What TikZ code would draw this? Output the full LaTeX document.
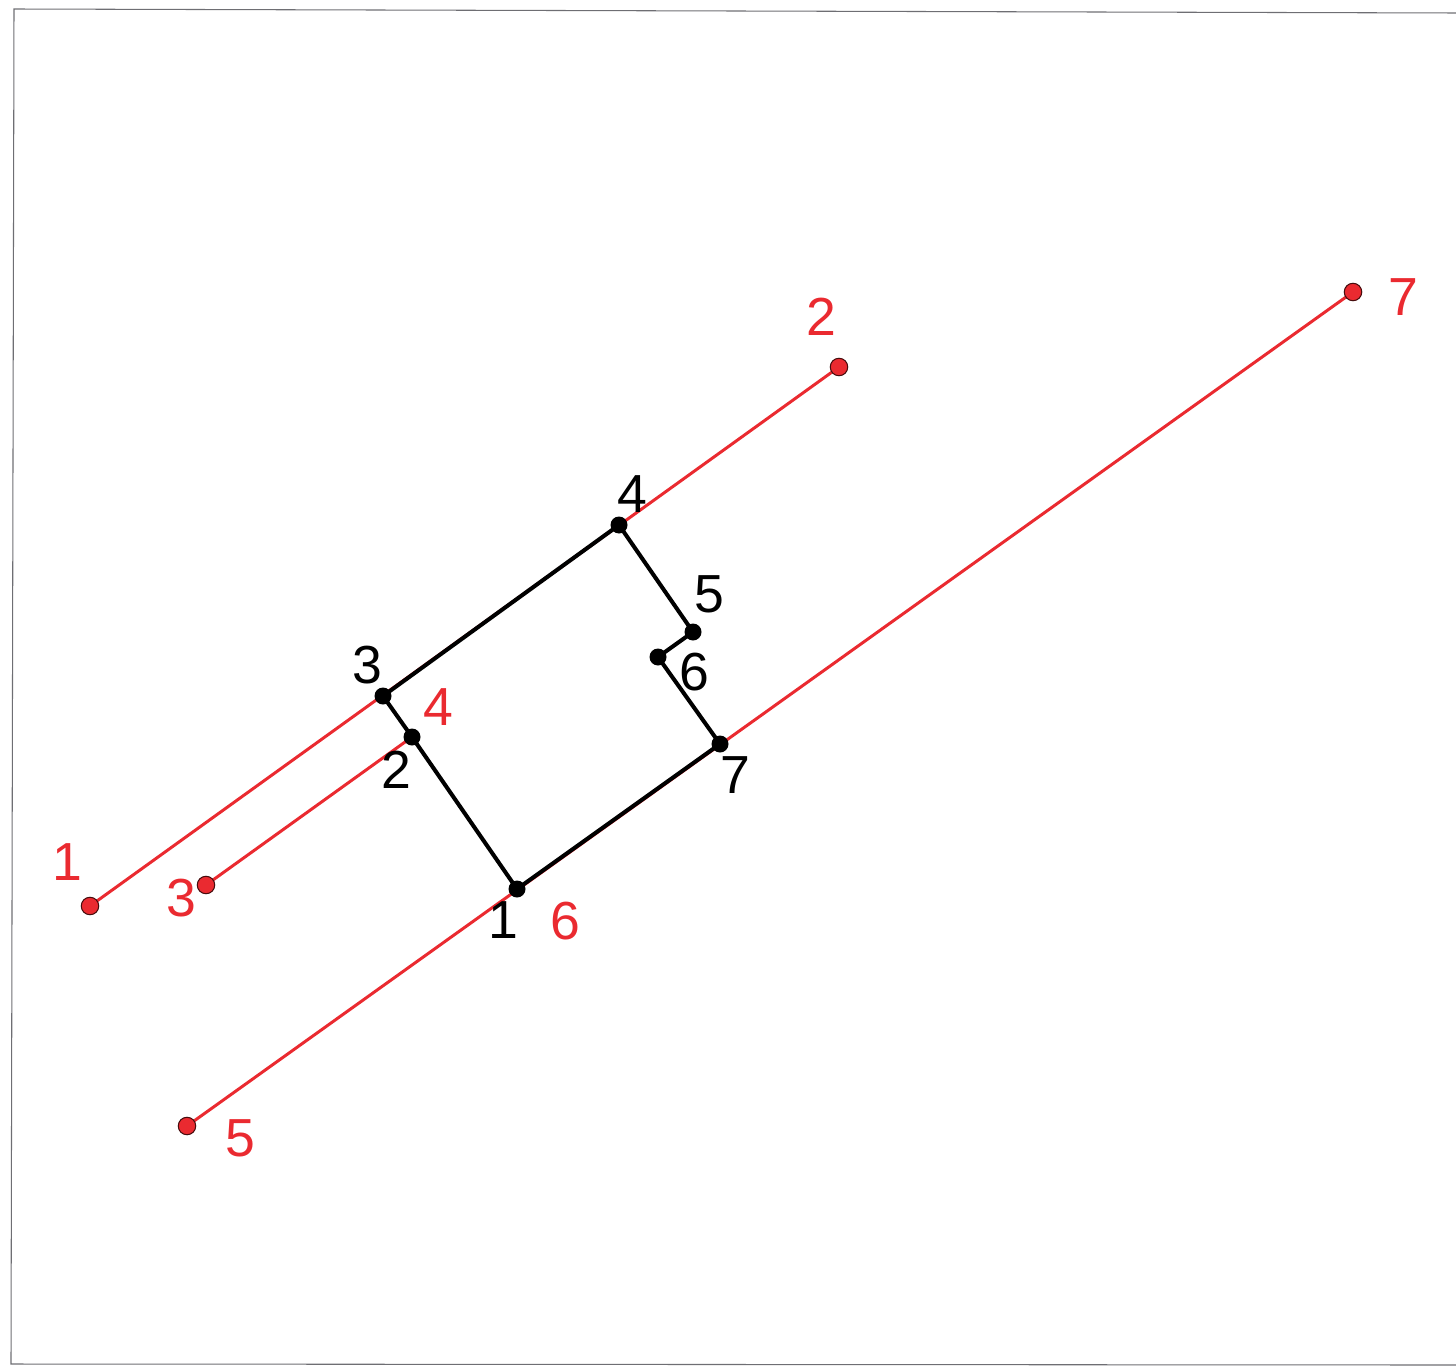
\documentclass[tikz,border=0pt]{standalone}
\usepackage{fontspec}
\setmainfont{Liberation Sans}
\definecolor{pred}{RGB}{234,42,48}
\definecolor{frame}{RGB}{110,110,115}
\begin{document}
\begin{tikzpicture}[x=0.02cm,y=-0.02cm,
  redline/.style={draw=pred,line width=1.7pt},
  blackline/.style={draw=black,line width=2.3pt,line join=round},
  reddot/.style={circle,fill=pred,draw=black!70!pred,line width=0.6pt,minimum size=0.35cm,inner sep=0pt},
  blackdot/.style={circle,fill=black,minimum size=0.34cm,inner sep=0pt},
  lab/.style={inner sep=0pt,font=\fontsize{30.5}{31}\selectfont},
  rlab/.style={lab,text=pred},
  blab/.style={lab,text=black}]
\useasboundingbox (0,0) rectangle (1456,1365);
% scan frame
\draw[frame,line width=0.6pt] (1456,13) -- (14,9) -- (11,1364) -- (1456,1365);
% points
\coordinate (b1) at (517,889);
\coordinate (b2) at (412,737);
\coordinate (b3) at (383,696);
\coordinate (b4) at (619,525);
\coordinate (b5) at (693,632);
\coordinate (b6) at (658,657);
\coordinate (b7) at (720,744);
\coordinate (r1) at (90,906);
\coordinate (r2) at (839,367);
\coordinate (r3) at (206,885);
\coordinate (r5) at (187,1126);
\coordinate (r7) at (1353,292);
% red lines
\draw[redline] (r1) -- (r2);
\draw[redline] (r3) -- (b2);
\draw[redline] (r5) -- (r7);
% red dots
\foreach \p in {r1,r2,r3,r5,r7} \node[reddot] (d\p) at (\p) {};
% black polyline
\draw[blackline] (b3) -- (b4) -- (b5) -- (b6) -- (b7) -- (b1) -- (b2) -- cycle;
\foreach \p in {b1,b2,b3,b4,b5,b6,b7} \node[blackdot] (d\p) at (\p) {};
% black labels
\node[blab] (lb1) at (503,920) {1};
\node[blab] (lb2) at (396,770) {2};
\node[blab] (lb3) at (367,665) {3};
\node[blab] (lb4) at (632,494) {4};
\node[blab] (lb5) at (709,594) {5};
\node[blab] (lb6) at (694,672) {6};
\node[blab] (lb7) at (735,775) {7};
% red labels
\node[rlab] (lr1) at (67,862) {1};
\node[rlab] (lr2) at (821,317) {2};
\node[rlab] (lr3) at (181,898) {3};
\node[rlab] (lr4) at (438,707) {4};
\node[rlab] (lr5) at (240,1138) {5};
\node[rlab] (lr6) at (565,921) {6};
\node[rlab] (lr7) at (1403,297) {7};
\end{tikzpicture}
\end{document}
